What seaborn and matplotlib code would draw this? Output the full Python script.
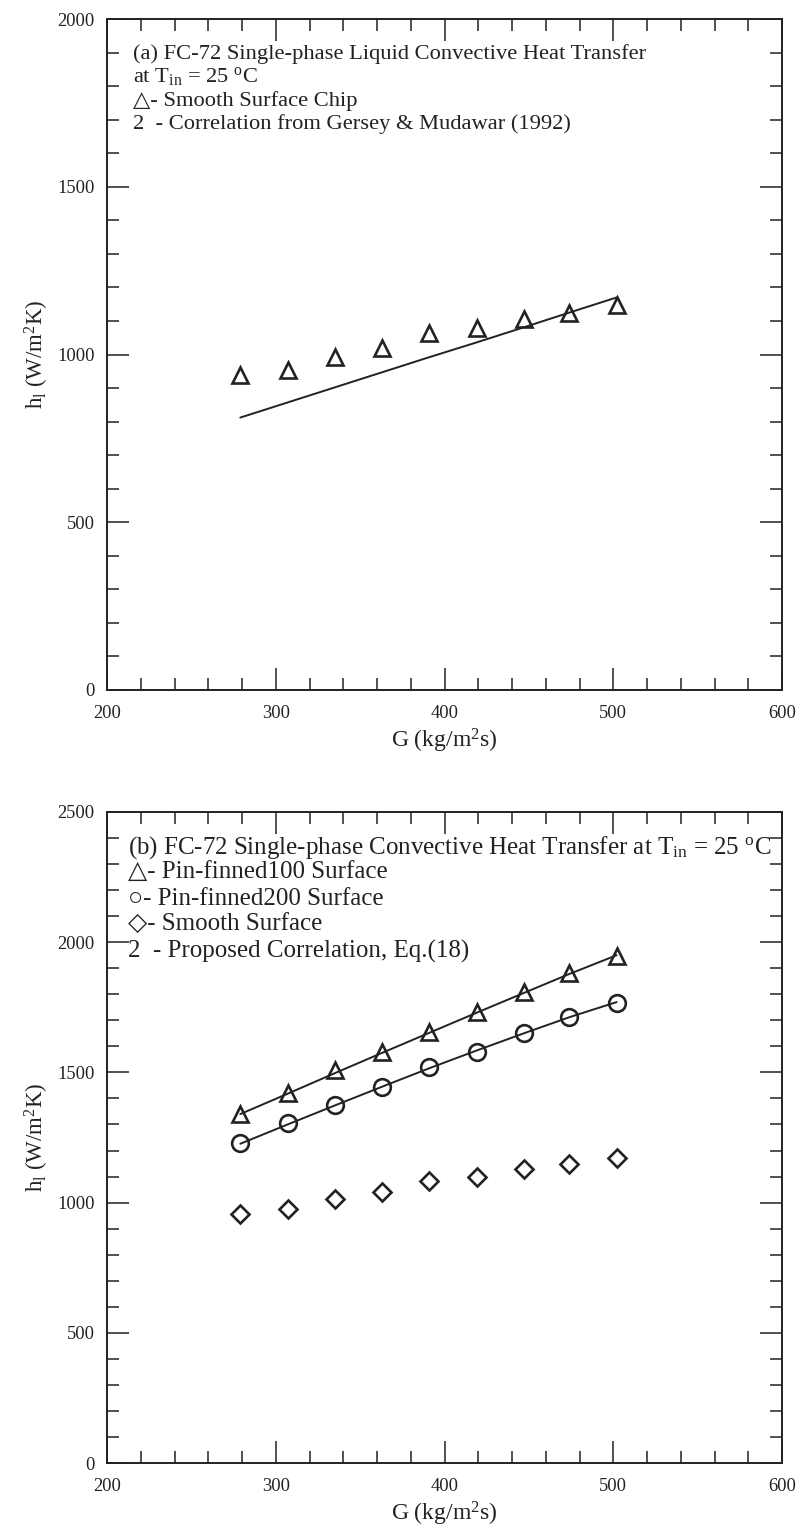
import seaborn as sns
import matplotlib.pyplot as plt
from matplotlib.ticker import MultipleLocator

# mass flux (kg/m2s)
G = [279, 307, 335, 363, 391, 419, 447, 474, 502]

# (a) smooth chip data and Gersey & Mudawar correlation
h_smooth_chip = [939, 954, 994, 1018, 1063, 1078, 1105, 1123, 1148]
h_gersey = [812, 857, 902, 947, 992, 1036, 1081, 1125, 1170]

# (b) pin-finned surfaces, smooth surface, proposed correlation
h_pin100 = [1340, 1422, 1510, 1579, 1656, 1733, 1810, 1881, 1947]
h_pin200 = [1228, 1304, 1375, 1445, 1519, 1580, 1650, 1711, 1767]
h_smooth = [956, 974, 1014, 1040, 1084, 1099, 1128, 1147, 1172]
h_corr100 = [1340, 1418, 1497, 1575, 1652, 1729, 1805, 1878, 1950]
h_corr200 = [1226, 1300, 1373, 1445, 1516, 1584, 1650, 1712, 1770]

sns.set_theme(style="ticks")
plt.rcParams['font.family'] = ['Liberation Serif', 'DejaVu Sans']
plt.rcParams['mathtext.fontset'] = 'custom'
plt.rcParams['mathtext.rm'] = 'Liberation Serif'
plt.rcParams['mathtext.it'] = 'Liberation Serif:italic'
plt.rcParams['axes.linewidth'] = 1.4
plt.rcParams['axes.edgecolor'] = '#222222'

fig = plt.figure(figsize=(8, 15.28), dpi=100)
# pixel boxes: left 107, right 782; (a) 19..690, (b) 812..1463
ax1 = fig.add_axes([107 / 800, 1 - 690 / 1528, 675 / 800, 671 / 1528])
ax2 = fig.add_axes([107 / 800, 1 - 1463 / 1528, 675 / 800, 651 / 1528])

mk = dict(linestyle='', mfc='none', mec='#222222', mew=1.9, color='#222222')


def style_axes(ax, ymax):
    ax.set_xlim(200, 600)
    ax.set_ylim(0, ymax)
    ax.xaxis.set_major_locator(MultipleLocator(100))
    ax.xaxis.set_minor_locator(MultipleLocator(20))
    ax.yaxis.set_major_locator(MultipleLocator(500))
    ax.yaxis.set_minor_locator(MultipleLocator(100))
    ax.tick_params(which='both', direction='in', top=True, right=True,
                   width=1.1, colors='#222222', labelsize=13.3)
    ax.tick_params(which='major', length=16)
    ax.tick_params(axis='x', which='major', pad=11)
    ax.tick_params(axis='y', which='major', pad=9)
    ax.tick_params(which='minor', length=8.5)
    ax.set_xlabel('G (kg/m$^2$s)', fontsize=17, color='#222222', labelpad=3)
    ax.set_ylabel('h$_{\\rm l}$ (W/m$^2$K)', fontsize=16.5, color='#222222', labelpad=4)
    for s in ax.spines.values():
        s.set_visible(True)


# ---- panel (a)
sns.lineplot(x=G, y=h_gersey, ax=ax1, color='#222222', linewidth=1.4)
sns.lineplot(x=G, y=h_smooth_chip, ax=ax1, marker='^', ms=12, **mk)
style_axes(ax1, 2000)

txt = dict(transform=ax1.transAxes, fontsize=16.2, color='#222222', va='center')
ax1.text(0.0385, 0.948, '(a) FC-72 Single-phase Liquid Convective Heat Transfer', **txt)
ax1.text(0.0385, 0.9136, 'at T$_{\\rm in}$ = 25 $^{\\rm o}$C', **txt)
ax1.text(0.0385, 0.878, '\u25b3- Smooth Surface Chip', **txt)
ax1.text(0.0385, 0.8435, '2  - Correlation from Gersey & Mudawar (1992)', **txt)

# ---- panel (b)
sns.lineplot(x=G, y=h_corr100, ax=ax2, color='#222222', linewidth=1.4)
sns.lineplot(x=G, y=h_corr200, ax=ax2, color='#222222', linewidth=1.4)
sns.lineplot(x=G, y=h_pin100, ax=ax2, marker='^', ms=12, **mk)
sns.lineplot(x=G, y=h_pin200, ax=ax2, marker='o', ms=12, **mk)
sns.lineplot(x=G, y=h_smooth, ax=ax2, marker='D', ms=9, **mk)
style_axes(ax2, 2500)

txt = dict(transform=ax2.transAxes, fontsize=18, color='#222222', va='center')
ax2.text(0.031, 0.946, '(b) FC-72 Single-phase Convective Heat Transfer at T$_{\\rm in}$ = 25 $^{\\rm o}$C', **txt)
ax2.text(0.031, 0.907, '\u25b3- Pin-finned100 Surface', **txt)
ax2.text(0.031, 0.866, '\u25cb- Pin-finned200 Surface', **txt)
ax2.text(0.031, 0.827, '\u25c7- Smooth Surface', **txt)
ax2.text(0.031, 0.786, '2  - Proposed Correlation, Eq.(18)', **txt)

plt.savefig('out.png', dpi=100)
